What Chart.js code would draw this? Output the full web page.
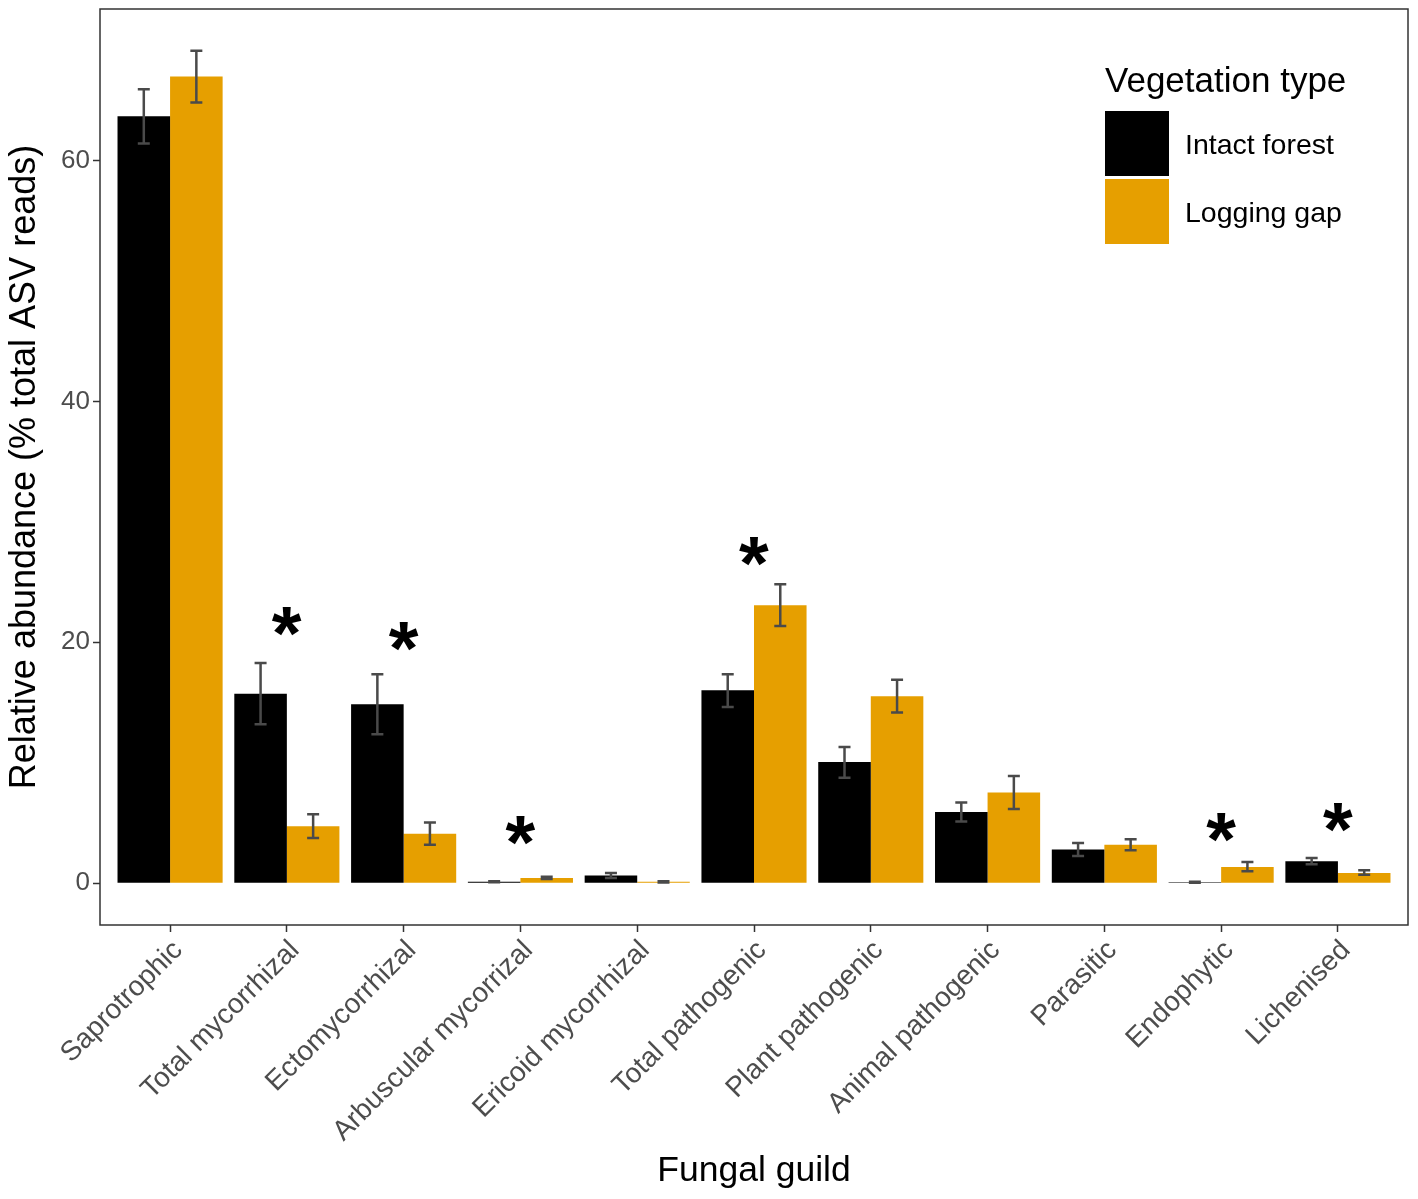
<!DOCTYPE html>
<html>
<head>
<meta charset="utf-8">
<title>Fungal guild relative abundance</title>
<script src="https://cdn.jsdelivr.net/npm/chart.js@4.4.1/dist/chart.umd.min.js"></script>
<style>
  html, body { margin: 0; padding: 0; background: #fff; }
  #wrap { width: 1418px; height: 1199px; }
</style>
</head>
<body>
<div id="wrap"><canvas id="guild-chart" width="1418" height="1199"></canvas></div>
<script>
// Fungal guild relative abundance - intact forest vs logging gap
const guilds = ['Saprotrophic', 'Total mycorrhizal', 'Ectomycorrhizal', 'Arbuscular mycorrizal',
    'Ericoid mycorrhizal', 'Total pathogenic', 'Plant pathogenic', 'Animal pathogenic',
    'Parasitic', 'Endophytic', 'Lichenised'];

const intactMean = [63.65, 15.74, 14.85, 0.12, 0.65, 16.02, 10.07, 5.92, 2.80, 0.08, 1.83];
const intactLow  = [61.4, 13.2, 12.37, 0.08, 0.45, 14.63, 8.77, 5.12, 2.27, 0.05, 1.58];
const intactHigh = [65.9, 18.28, 17.34, 0.17, 0.85, 17.34, 11.31, 6.70, 3.34, 0.12, 2.10];

const gapMean = [66.95, 4.73, 4.12, 0.45, 0.12, 23.07, 15.52, 7.53, 3.21, 1.35, 0.85];
const gapLow  = [64.8, 3.76, 3.2, 0.35, 0.07, 21.35, 14.17, 6.17, 2.74, 1.0, 0.72];
const gapHigh = [69.1, 5.73, 5.04, 0.55, 0.17, 24.81, 16.9, 8.9, 3.65, 1.77, 1.08];

// where the significance asterisks sit (null = not significant)
const starY = [null, 21.7, 20.5, 4.4, null, 27.5, null, null, null, 4.6, 5.45];

const yTicks = [0, 20, 40, 60];
const seriesNames = ['Intact forest', 'Logging gap'];
const seriesColors = ['#000000', '#E69F00'];

const FONT = "'Liberation Sans', Arial, Helvetica, sans-serif";
Chart.defaults.font.family = FONT;

const toPoints = arr => arr.map((v, i) => ({ x: i + 1, y: v }));

// error bars + asterisks
const errorBars = {
    id: 'errorBars',
    afterDatasetsDraw(chart) {
        const ctx = chart.ctx;
        const yScale = chart.scales.y;
        const lows = [intactLow, gapLow];
        const highs = [intactHigh, gapHigh];
        ctx.save();
        ctx.strokeStyle = '#4a4a4a';
        ctx.lineWidth = 2.5;
        chart.data.datasets.forEach((ds, d) => {
            const meta = chart.getDatasetMeta(d);
            meta.data.forEach((bar, i) => {
                const x = bar.x;
                const yl = yScale.getPixelForValue(lows[d][i]);
                const yh = yScale.getPixelForValue(highs[d][i]);
                ctx.beginPath();
                ctx.moveTo(x, yl); ctx.lineTo(x, yh);
                ctx.moveTo(x - 6, yl); ctx.lineTo(x + 6, yl);
                ctx.moveTo(x - 6, yh); ctx.lineTo(x + 6, yh);
                ctx.stroke();
            });
        });

        // asterisks, sized so the glyph is ~29px tall
        ctx.font = 'bold 100px ' + FONT;
        const m = ctx.measureText('*');
        const size = 100 * 29 / (m.actualBoundingBoxAscent + m.actualBoundingBoxDescent);
        ctx.font = 'bold ' + size + 'px ' + FONT;
        const mm = ctx.measureText('*');
        ctx.fillStyle = '#000';
        ctx.textAlign = 'left';
        ctx.textBaseline = 'alphabetic';
        const xScale = chart.scales.x;
        starY.forEach((v, i) => {
            if (v === null) return;
            const cx = xScale.getPixelForValue(i + 1);
            const cy = yScale.getPixelForValue(v);
            const gx = cx - (mm.actualBoundingBoxRight - mm.actualBoundingBoxLeft) / 2;
            const gy = cy + (mm.actualBoundingBoxAscent - mm.actualBoundingBoxDescent) / 2;
            ctx.fillText('*', gx, gy);
        });
        ctx.restore();
    },
    afterDraw(chart) {
        const ctx = chart.ctx;
        const a = chart.chartArea;
        ctx.save();
        // panel border
        ctx.strokeStyle = '#333';
        ctx.lineWidth = 1.5;
        ctx.strokeRect(a.left, a.top, a.right - a.left, a.bottom - a.top);

        // legend
        ctx.fillStyle = '#000';
        ctx.textAlign = 'left';
        ctx.textBaseline = 'alphabetic';
        ctx.font = '35px ' + FONT;
        ctx.fillText('Vegetation type', 1105, 92);
        ctx.font = '28.5px ' + FONT;
        seriesNames.forEach((name, k) => {
            ctx.fillStyle = seriesColors[k];
            ctx.fillRect(1105, 111 + k * 68, 64, 65);
            ctx.fillStyle = '#000';
            ctx.fillText(name, 1185, 154 + k * 68);
        });
        ctx.restore();
    }
};

new Chart(document.getElementById('guild-chart'), {
    type: 'bar',
    data: {
        datasets: [{
            label: seriesNames[0],
            data: toPoints(intactMean),
            backgroundColor: seriesColors[0],
            borderWidth: 0,
            categoryPercentage: 0.9,
            barPercentage: 1.0
        }, {
            label: seriesNames[1],
            data: toPoints(gapMean),
            backgroundColor: seriesColors[1],
            borderWidth: 0,
            categoryPercentage: 0.9,
            barPercentage: 1.0
        }]
    },
    options: {
        responsive: false,
        devicePixelRatio: 1,
        animation: false,
        layout: { padding: { top: 9, right: 10, left: 0, bottom: 0 } },
        plugins: { legend: { display: false }, tooltip: { enabled: false } },
        scales: {
            x: {
                type: 'linear',
                min: 0.4,
                max: 11.6,
                offset: false,
                afterBuildTicks: axis => { axis.ticks = guilds.map((g, i) => ({ value: i + 1 })); },
                afterFit: axis => { axis.height = 274; axis.paddingLeft = 0; axis.paddingRight = 0; },
                ticks: {
                    callback: (val, idx) => guilds[idx],
                    minRotation: 45,
                    maxRotation: 45,
                    autoSkip: false,
                    padding: 2,
                    labelOffset: 8,
                    color: '#4d4d4d',
                    font: { size: 28 }
                },
                grid: { offset: false, drawOnChartArea: false, drawTicks: true, tickLength: 7, tickColor: '#333', tickWidth: 1.5 },
                border: { display: false },
                title: {
                    display: true,
                    text: 'Fungal guild',
                    color: '#000',
                    font: { size: 35.5 },
                    padding: { top: 0, bottom: 6 }
                }
            },
            y: {
                min: -3.46,
                max: 72.56,
                afterBuildTicks: axis => { axis.ticks = yTicks.map(v => ({ value: v })); },
                afterFit: axis => { axis.width = 100; axis.paddingTop = 0; axis.paddingBottom = 0; },
                ticks: { color: '#4d4d4d', font: { size: 26 }, padding: 3 },
                grid: { drawOnChartArea: false, drawTicks: true, tickLength: 7, tickColor: '#333', tickWidth: 1.5 },
                border: { display: false },
                title: {
                    display: true,
                    text: 'Relative abundance (% total ASV reads)',
                    color: '#000',
                    font: { size: 36 },
                    padding: { top: 3, bottom: 0 }
                }
            }
        }
    },
    plugins: [errorBars]
});
</script>
</body>
</html>
